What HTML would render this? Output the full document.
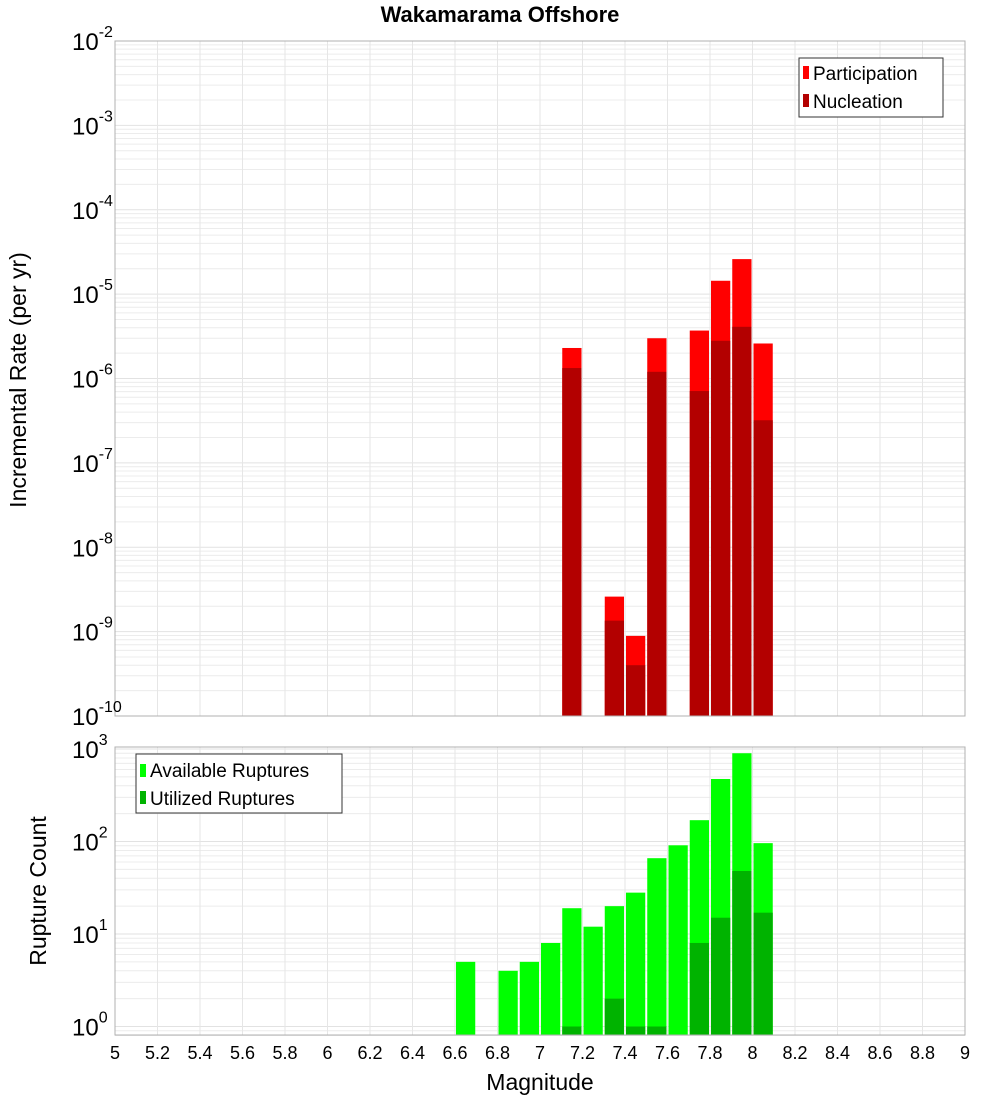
<!DOCTYPE html>
<html><head><meta charset="utf-8"><style>
body{margin:0;background:#fff;}
svg text{font-family:"Liberation Sans","DejaVu Sans",sans-serif;}
</style></head><body>
<svg id="c" width="1000" height="1100" xmlns="http://www.w3.org/2000/svg"></svg>
<script>
const mags=[6.65,6.75,6.85,6.95,7.05,7.15,7.25,7.35,7.45,7.55,7.65,7.75,7.85,7.95,8.05];
const participation=[0,0,0,0,0,2.3e-6,0,2.6e-9,8.9e-10,3.0e-6,0,3.7e-6,1.44e-5,2.6e-5,2.6e-6];
const nucleation=[0,0,0,0,0,1.33e-6,0,1.35e-9,4.0e-10,1.2e-6,0,7.1e-7,2.8e-6,4.1e-6,3.2e-7];
const available=[5,0,4,5,8,19,12,20,28,66,91,170,474,900,96];
const utilized=[0,0,0,0,0,1,0,2,1,1,0,8,15,48,17];
const xTicks=[5,5.2,5.4,5.6,5.8,6,6.2,6.4,6.6,6.8,7,7.2,7.4,7.6,7.8,8,8.2,8.4,8.6,8.8,9];
const topDecades=[-10,-9,-8,-7,-6,-5,-4,-3,-2];
const botDecades=[0,1,2,3];

const svg=document.getElementById('c');
const NS='http://www.w3.org/2000/svg';
function mk(tag,attrs,parent){const e=document.createElementNS(NS,tag);for(const k in attrs)e.setAttribute(k,attrs[k]);(parent||svg).appendChild(e);return e;}
const X0=115,X1=965;
const x=m=>X0+(m-5)/4*(X1-X0);
const T={top:41,bot:716,lmin:-10,lmax:-2};
const B={top:747,bot:1035,y0:1026.5,dec:92.5};
const yT=v=>T.bot-(Math.log10(v)-T.lmin)/(T.lmax-T.lmin)*(T.bot-T.top);
const yB=v=>B.y0-Math.log10(v)*B.dec;

function grid(panel,ymap,dmin,dmax,top,bot){
  const g=mk('g',{});
  
  
  for(let d=dmin-1;d<=dmax;d++)for(let k=1;k<10;k++){const yy=ymap(k*Math.pow(10,d));if(yy<top-0.5||yy>bot+0.5)continue;
    mk('line',{x1:X0,x2:X1,y1:yy,y2:yy,stroke:k==1?'#e2e2e2':'#ececec','stroke-width':1},g);}
  xTicks.forEach(t=>{mk('line',{x1:x(t),x2:x(t),y1:top,y2:bot,stroke:'#e6e6e6','stroke-width':1},g);});
}
// top panel
mk('rect',{x:X0,y:T.top,width:X1-X0,height:T.bot-T.top,fill:'#fff'});
grid('top',yT,-10,-2,T.top,T.bot);
const bw=(x(5.1)-x(5))-2;
mags.forEach((m,i)=>{
  if(participation[i]>0){const r=mk('rect',{x:x(m)-bw/2,y:yT(participation[i]),width:bw,height:T.bot-yT(participation[i]),fill:'#ff0000'});
    }
  if(nucleation[i]>0){const r=mk('rect',{x:x(m)-bw/2,y:yT(nucleation[i]),width:bw,height:T.bot-yT(nucleation[i]),fill:'#b30000'});
    }
});
mk('rect',{x:X0,y:T.top,width:X1-X0,height:T.bot-T.top,fill:'none',stroke:'#b0b0b0'});
topDecades.forEach(d=>{const yy=yT(Math.pow(10,d));const t=mk('text',{x:72,y:yy+9,'font-size':24,fill:'#000'});
  
  t.innerHTML='10<tspan dy="-13" font-size="16">'+d+'</tspan>';});
// bottom panel
mk('rect',{x:X0,y:B.top,width:X1-X0,height:B.bot-B.top,fill:'#fff'});
grid('bottom',yB,0,3,B.top,B.bot);
mags.forEach((m,i)=>{
  if(available[i]>0){const r=mk('rect',{x:x(m)-bw/2,y:yB(available[i]),width:bw,height:B.bot-yB(available[i]),fill:'#00ff00'});
    }
  if(utilized[i]>0){const r=mk('rect',{x:x(m)-bw/2,y:yB(utilized[i]),width:bw,height:B.bot-yB(utilized[i]),fill:'#00b300'});
    }
});
mk('rect',{x:X0,y:B.top,width:X1-X0,height:B.bot-B.top,fill:'none',stroke:'#b0b0b0'});
botDecades.forEach(d=>{const yy=yB(Math.pow(10,d));const t=mk('text',{x:72,y:yy+9,'font-size':24,fill:'#000'});
  
  t.innerHTML='10<tspan dy="-13" font-size="16">'+d+'</tspan>';});
xTicks.forEach(v=>{const t=mk('text',{x:x(v),y:1059,'font-size':18,'text-anchor':'middle',fill:'#000'});
  t.textContent=String(v);});
</script>
<svg width="1000" height="1100" style="position:absolute;left:0;top:0" xmlns="http://www.w3.org/2000/svg">
<text x="500" y="22" font-size="22" font-weight="bold" text-anchor="middle" font-family="Liberation Sans,sans-serif">Wakamarama Offshore</text>
<text transform="translate(26,380) rotate(-90)" font-size="23" text-anchor="middle" font-family="Liberation Sans,sans-serif">Incremental Rate (per yr)</text>
<text transform="translate(46,891) rotate(-90)" font-size="23" text-anchor="middle" font-family="Liberation Sans,sans-serif">Rupture Count</text>
<text x="540" y="1090" font-size="23" text-anchor="middle" font-family="Liberation Sans,sans-serif">Magnitude</text>
<g font-family="Liberation Sans,sans-serif" font-size="19">
<rect x="799" y="58" width="144" height="59" fill="#fff" stroke="#333"/>
<rect x="803" y="66" width="6" height="13" fill="#ff0000"/>
<text x="813" y="80">Participation</text>
<rect x="803" y="94" width="6" height="13" fill="#b30000"/>
<text x="813" y="108">Nucleation</text>
</g>
<g font-family="Liberation Sans,sans-serif" font-size="19">
<rect x="136" y="754" width="206" height="59" fill="#fff" stroke="#333"/>
<rect x="140" y="764" width="6" height="13" fill="#00ff00"/>
<text x="150" y="777">Available Ruptures</text>
<rect x="140" y="791" width="6" height="13" fill="#00b300"/>
<text x="150" y="805">Utilized Ruptures</text>
</g>
</svg>
</body></html>
